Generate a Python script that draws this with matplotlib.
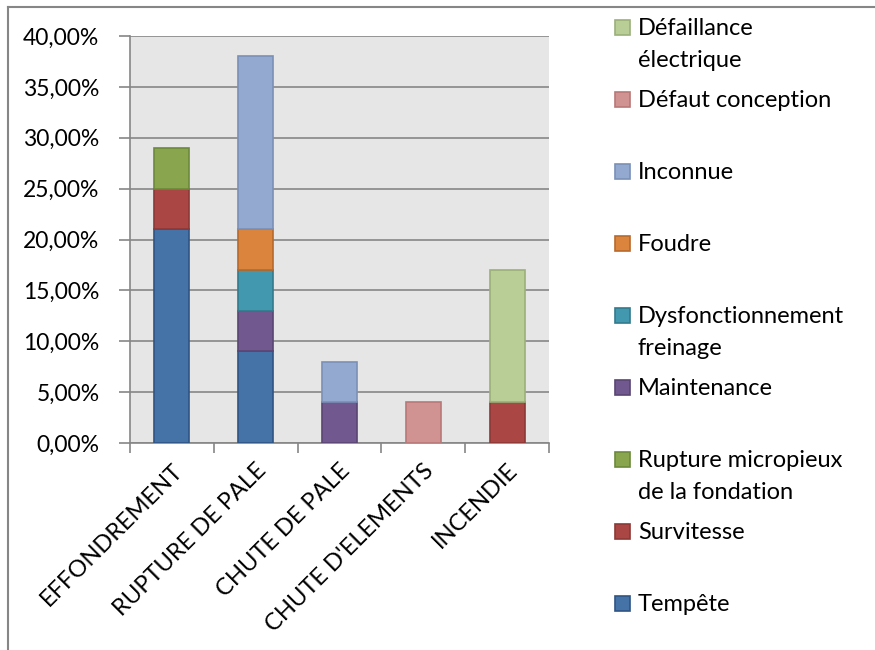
import numpy as np
import matplotlib
matplotlib.use('Agg')
import matplotlib.pyplot as plt
from matplotlib.patches import Rectangle
from matplotlib.lines import Line2D
from matplotlib.ticker import FuncFormatter, FixedLocator

plt.rcParams['font.family'] = ['Lato', 'DejaVu Sans']

## Données (en %) ##
categories = ['EFFONDREMENT', 'RUPTURE DE PALE', 'CHUTE DE PALE',
              "CHUTE D'ELEMENTS", 'INCENDIE']

causes = ['Tempête', 'Survitesse', 'Rupture micropieux\nde la fondation',
          'Maintenance', 'Dysfonctionnement\nfreinage', 'Foudre', 'Inconnue',
          'Défaut conception', 'Défaillance\nélectrique']

tempete       = [21, 9, 0, 0, 0]
survitesse    = [4, 0, 0, 0, 4]
micropieux    = [4, 0, 0, 0, 0]
maintenance   = [0, 4, 4, 0, 0]
freinage      = [0, 4, 0, 0, 0]
foudre        = [0, 4, 0, 0, 0]
inconnue      = [0, 17, 4, 0, 0]
conception    = [0, 0, 0, 4, 0]
electrique    = [0, 0, 0, 0, 13]

series = [tempete, survitesse, micropieux, maintenance, freinage,
          foudre, inconnue, conception, electrique]

couleurs = ['#4572A7', '#AA4643', '#89A54E', '#71588F', '#4198AF',
            '#DB843D', '#93A9CF', '#D19392', '#B9CD96']
bords    = ['#2F5585', '#8C3836', '#6D8A3C', '#5A4573', '#327A8C',
            '#B76A2D', '#7A90B8', '#B87877', '#9BB07A']

fs = 17

fig = plt.figure(figsize=(8.75, 6.5), dpi=100)
ax = fig.add_axes([130/875, 1-443/650, 419/875, 407/650])
ax.set_facecolor('#E6E6E6')

x = np.arange(len(categories))
bas = np.zeros(len(categories))
for vals, c, e in zip(series, couleurs, bords):
    v = np.array(vals, dtype=float)
    m = v > 0
    ax.bar(x[m], v[m], width=0.42, bottom=bas[m], color=c, edgecolor=e,
           linewidth=1.2, zorder=3)
    bas += v

ax.set_xlim(-0.5, 4.5)
ax.set_ylim(0, 40)
ax.set_yticks(np.arange(0, 41, 5))
ax.yaxis.set_major_formatter(FuncFormatter(lambda v, p: ('%.2f%%' % v).replace('.', ',')))
ax.grid(axis='y', color='#868686', linewidth=1.2, zorder=1)

ax.set_xticks(x)
ax.set_xticklabels(categories, rotation=45, ha='right', va='top',
                   rotation_mode='anchor')
ax.xaxis.set_minor_locator(FixedLocator(np.arange(-0.5, 4.6, 1)))
ax.tick_params(axis='x', which='major', length=0, pad=12, labelsize=fs)
ax.tick_params(axis='x', which='minor', length=7, width=1.2, color='#868686')
ax.tick_params(axis='y', length=8, width=1.2, color='#868686', pad=14, labelsize=16.5)

for s in ['top', 'right']:
    ax.spines[s].set_visible(False)
for s in ['left', 'bottom']:
    ax.spines[s].set_color('#868686')
    ax.spines[s].set_linewidth(1.2)

# légende (ordre inversé, espacement régulier)
y0 = 27
for i, k in enumerate(range(len(causes)-1, -1, -1)):
    yc = y0 + 72*i
    fig.patches.append(Rectangle((615/875, 1-(yc+8)/650), 15/875, 15/650,
                                 transform=fig.transFigure, facecolor=couleurs[k],
                                 edgecolor=bords[k], linewidth=1.2))
    lignes = causes[k].split('\n')
    for j, t in enumerate(lignes):
        fig.text(638/875, 1-(yc+8+32*j)/650, t, fontsize=fs, va='baseline',
                 ha='left')

# cadre
fig.add_artist(Line2D([8/875, 1], [1-7/650, 1-7/650], color='#868686', lw=1.5))
fig.add_artist(Line2D([8/875, 8/875], [0, 1-7/650], color='#868686', lw=1.5))

fig.savefig('out.png', dpi=100)
